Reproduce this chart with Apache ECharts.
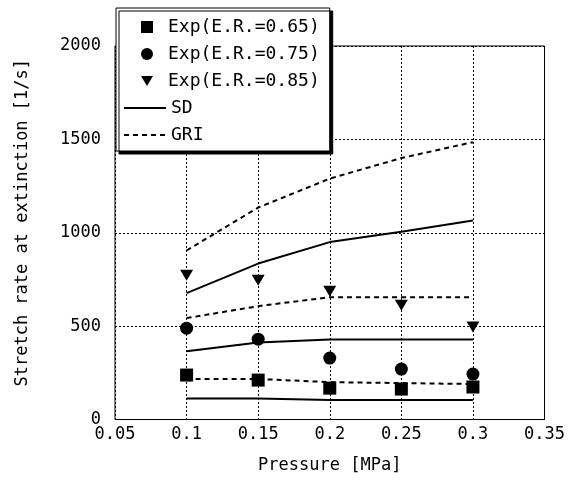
<!DOCTYPE html>
<html>
<head>
<meta charset="utf-8">
<script src="https://cdn.jsdelivr.net/npm/echarts@6/dist/echarts.min.js"></script>
<style>
html, body { margin: 0; padding: 0; background: #fff; }
#main { width: 568px; height: 481px; }
</style>
</head>
<body>
<div id="main"></div>
<script>
// pressure [MPa]
var pressure = [0.1, 0.15, 0.2, 0.25, 0.3]
// experiments
var exp065 = [238, 211, 168, 163, 174]
var exp075 = [489, 430, 329, 270, 243]
var exp085 = [772, 746, 687, 612, 495]
// SD model
var sd065 = [113, 112, 104, 104, 104]
var sd075 = [366, 412, 428, 428, 428]
var sd085 = [677, 835, 950, 1005, 1065]
// GRI model
var gri065 = [217, 217, 200, 195, 190]
var gri075 = [543, 607, 655, 655, 655]
var gri085 = [905, 1135, 1290, 1400, 1485]

var expNames = ['Exp(E.R.=0.65)', 'Exp(E.R.=0.75)', 'Exp(E.R.=0.85)']
var modelNames = ['SD', 'GRI']

var downTriangle = 'path://M0,0 L20,0 L10,17 Z'

function pairs (ys) {
  return pressure.map(function (x, i) { return [x, ys[i]] })
}

var font = 'DejaVu Sans Mono'

function scatter (name, ys, symbol, size) {
  return {
    name: name,
    type: 'scatter',
    symbol: symbol,
    symbolSize: size,
    itemStyle: { color: '#000', opacity: 1 },
    data: pairs(ys),
    z: 3
  }
}

function line (name, ys, dash) {
  return {
    name: name,
    type: 'line',
    symbol: 'none',
    lineStyle: { color: '#000', width: 2, type: dash ? [5, 4] : 'solid' },
    itemStyle: { color: '#000' },
    data: pairs(ys)
  }
}

var chart = echarts.init(document.getElementById('main'))
chart.setOption({
  animation: false,
  color: ['#000'],
  grid: {
    left: 115,
    right: 21,
    top: 46,
    bottom: 61.5,
    show: true,
    borderColor: '#000',
    borderWidth: 1
  },
  legend: [
    {
      // box + marker entries
      data: [
        { name: expNames[0], icon: 'rect' },
        { name: expNames[1], icon: 'circle' },
        { name: expNames[2], icon: downTriangle }
      ],
      orient: 'vertical',
      left: 116,
      top: 8,
      padding: [10, 10, 61, 25],
      itemWidth: 12,
      itemHeight: 12,
      itemGap: 9,
      itemStyle: { color: '#000', opacity: 1 },
      backgroundColor: '#fff',
      borderColor: '#000',
      borderWidth: 1,
      shadowColor: '#000',
      shadowBlur: 0,
      shadowOffsetX: 3,
      shadowOffsetY: 3,
      textStyle: { fontFamily: font, fontSize: 18, lineHeight: 18, color: '#000', padding: [0, 0, 0, 10] }
    },
    {
      // line entries
      data: modelNames,
      orient: 'vertical',
      left: 116,
      top: 99,
      padding: [0, 0, 0, 7],
      itemWidth: 42,
      itemHeight: 12,
      itemGap: 9,
      itemStyle: { opacity: 0 },
      textStyle: { fontFamily: font, fontSize: 18, lineHeight: 18, color: '#000' }
    }
  ],
  xAxis: {
    type: 'value',
    min: 0.05,
    max: 0.35,
    interval: 0.05,
    name: 'Pressure [MPa]',
    nameLocation: 'middle',
    nameGap: 38,
    nameTextStyle: { fontFamily: font, fontSize: 17, color: '#000' },
    axisLine: { show: false },
    axisTick: { show: false },
    axisLabel: {
      margin: 7,
      fontFamily: font,
      fontSize: 17,
      color: '#000',
      formatter: function (v) { return String(+v.toFixed(2)) }
    },
    splitLine: { show: true, lineStyle: { color: '#000', width: 1, type: [2, 2] } }
  },
  yAxis: {
    type: 'value',
    min: 0,
    max: 2000,
    interval: 500,
    name: 'Stretch rate at extinction [1/s]',
    nameLocation: 'middle',
    nameGap: 84,
    nameTextStyle: { fontFamily: font, fontSize: 17, color: '#000', padding: [0, 0, 0, 20] },
    axisLine: { show: false },
    axisTick: { show: false },
    axisLabel: {
      margin: 14,
      fontFamily: font,
      fontSize: 17,
      color: '#000',
      padding: [0, 0, 6, 0],
      formatter: function (v) { return String(v) }
    },
    splitLine: { show: true, lineStyle: { color: '#000', width: 1, type: [2, 2] } }
  },
  series: [
    scatter(expNames[0], exp065, 'rect', 13),
    scatter(expNames[1], exp075, 'circle', 13),
    scatter(expNames[2], exp085, downTriangle, [13, 11]),
    line('SD', sd065, false),
    line('SD', sd075, false),
    line('SD', sd085, false),
    line('GRI', gri065, true),
    line('GRI', gri075, true),
    line('GRI', gri085, true)
  ]
})
</script>
</body>
</html>
